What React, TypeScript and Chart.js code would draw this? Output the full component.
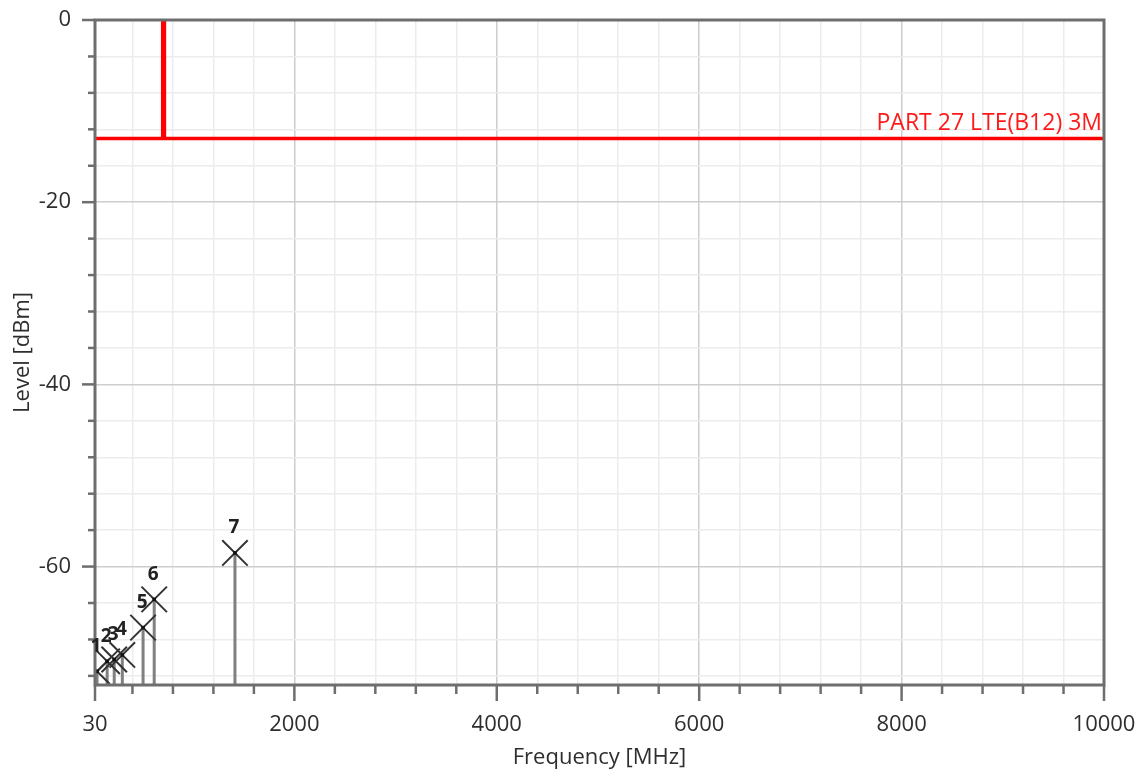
import React, { useEffect, useRef } from "react";
import { Chart, registerables } from "chart.js";

Chart.register(...registerables);

// ---- data ----
const X_MIN = 30;
const X_MAX = 10000;
const Y_MIN = -73;
const Y_MAX = 0;

const xTickValues = [30, 400, 800, 1200, 1600, 2000, 2400, 2800, 3200, 3600, 4000, 4400, 4800, 5200, 5600, 6000, 6400, 6800, 7200, 7600, 8000, 8400, 8800, 9200, 9600, 10000];
const xLabelValues = [30, 2000, 4000, 6000, 8000, 10000];
const yTickValues = [0, -4, -8, -12, -16, -20, -24, -28, -32, -36, -40, -44, -48, -52, -56, -60, -64, -68, -72];
const yLabelValues = [0, -20, -40, -60];

const markerLabels = ["1", "2", "3", "4", "5", "6", "7"];
const markerFreqs = [50, 150, 220, 300, 505, 615, 1413];
const markerLevels = [-71.5, -70.4, -70.2, -69.7, -66.7, -63.6, -58.5];

const limitFreqs = [30, 699, 699, 716, 716, 10000];
const limitLevels = [-13, -13, 0, 0, -13, -13];
const limitName = "PART 27 LTE(B12) 3M";

const FONT = "'Open Sans', 'DejaVu Sans', sans-serif";
const TEXT_COLOR = "#2e2e2e";
const AXIS_COLOR = "#6e6e6e";

const overlayPlugin = {
  id: "overlay",
  afterDraw(chart: any) {
    const { ctx, chartArea } = chart;
    const xs = chart.scales.x;
    const ys = chart.scales.y;
    ctx.save();
    // frame
    ctx.strokeStyle = AXIS_COLOR;
    ctx.lineWidth = 3;
    ctx.strokeRect(chartArea.left, chartArea.top, chartArea.right - chartArea.left, chartArea.bottom - chartArea.top);
    // tick marks
    ctx.lineWidth = 2.5;
    xTickValues.forEach((v) => {
      const px = xs.getPixelForValue(v);
      const major = xLabelValues.includes(v);
      ctx.beginPath();
      ctx.moveTo(px, chartArea.bottom);
      ctx.lineTo(px, chartArea.bottom + (major ? 16 : 9));
      ctx.stroke();
    });
    yTickValues.forEach((v) => {
      const py = ys.getPixelForValue(v);
      const major = yLabelValues.includes(v);
      ctx.beginPath();
      ctx.moveTo(chartArea.left, py);
      ctx.lineTo(chartArea.left - (major ? 13 : 7), py);
      ctx.stroke();
    });
    // limit label
    ctx.fillStyle = "#ff1a1a";
    ctx.font = `23px ${FONT}`;
    ctx.textAlign = "right";
    ctx.textBaseline = "middle";
    ctx.fillText(limitName, chartArea.right - 2, ys.getPixelForValue(limitLevels[limitLevels.length - 1]) - 15);
    // marker labels
    ctx.fillStyle = "#222";
    ctx.font = `bold 19px ${FONT}`;
    ctx.textAlign = "center";
    markerLabels.forEach((lab, i) => {
      const px = xs.getPixelForValue(markerFreqs[i]);
      const py = ys.getPixelForValue(markerLevels[i]);
      ctx.fillText(lab, px - 1, py - 25);
    });
    ctx.restore();
  },
};

export default function App() {
  const canvasRef = useRef<HTMLCanvasElement | null>(null);

  useEffect(() => {
    const canvas = canvasRef.current;
    if (!canvas) return;

    const stemData: any[] = [];
    markerFreqs.forEach((f, i) => {
      stemData.push({ x: f, y: Y_MIN });
      stemData.push({ x: f, y: markerLevels[i] });
      stemData.push({ x: f, y: null });
    });

    const chart = new Chart(canvas, {
      type: "scatter",
      data: {
        datasets: [
          {
            label: "limit",
            data: limitFreqs.map((f, i) => ({ x: f, y: limitLevels[i] })),
            showLine: true,
            borderColor: "#ff0000",
            borderWidth: 3.5,
            pointRadius: 0,
            fill: false,
          } as any,
          {
            label: "centers",
            data: markerFreqs.map((f, i) => ({ x: f, y: markerLevels[i] })),
            pointStyle: "rect",
            pointRadius: 2.5,
            backgroundColor: "#111",
            borderColor: "#111",
            borderWidth: 0,
          },
          {
            label: "markers",
            data: markerFreqs.map((f, i) => ({ x: f, y: markerLevels[i] })),
            pointStyle: "crossRot",
            pointRadius: 18,
            borderColor: "#333",
            borderWidth: 2,
            backgroundColor: "transparent",
          },
          {
            label: "stems",
            data: stemData,
            showLine: true,
            spanGaps: false,
            borderColor: "#808080",
            borderWidth: 3,
            pointRadius: 0,
          } as any,
        ],
      },
      options: {
        animation: false,
        responsive: false,
        events: [],
        layout: { padding: { top: 18, right: 37, left: 0, bottom: 0 } },
        plugins: { legend: { display: false }, tooltip: { enabled: false } },
        scales: {
          x: {
            type: "linear",
            min: X_MIN,
            max: X_MAX,
            afterBuildTicks: (scale: any) => {
              scale.ticks = xTickValues.map((v) => ({ value: v }));
            },
            afterFit: (scale: any) => {
              scale.height = 89;
              scale.paddingLeft = 0;
              scale.paddingRight = 0;
            },
            ticks: {
              autoSkip: false,
              maxRotation: 0,
              padding: 27,
              color: TEXT_COLOR,
              font: { family: FONT, size: 22 },
              callback: (v: any) => (xLabelValues.includes(Number(v)) ? String(v) : ""),
            },
            grid: {
              drawTicks: false,
              lineWidth: 1.5,
              color: (c: any) => (c.tick && xLabelValues.includes(c.tick.value) ? "#cdcdcd" : "#ececec"),
            },
            border: { display: false },
            title: {
              display: true,
              text: "Frequency [MHz]",
              color: TEXT_COLOR,
              font: { family: FONT, size: 22 },
              padding: { top: 0, bottom: 3 },
            },
          },
          y: {
            type: "linear",
            min: Y_MIN,
            max: Y_MAX,
            afterBuildTicks: (scale: any) => {
              scale.ticks = yTickValues.map((v) => ({ value: v }));
            },
            afterFit: (scale: any) => {
              scale.width = 95;
              scale.paddingTop = 0;
              scale.paddingBottom = 0;
            },
            ticks: {
              autoSkip: false,
              padding: 24,
              color: TEXT_COLOR,
              font: { family: FONT, size: 22 },
              callback: (v: any) => (yLabelValues.includes(Number(v)) ? String(v) : ""),
            },
            grid: {
              drawTicks: false,
              lineWidth: 1.5,
              color: (c: any) => (c.tick && yLabelValues.includes(c.tick.value) ? "#cdcdcd" : "#ececec"),
            },
            border: { display: false },
            title: {
              display: true,
              text: "Level [dBm]",
              color: TEXT_COLOR,
              font: { family: FONT, size: 22 },
              padding: { top: 10, bottom: 0 },
            },
          },
        },
      },
      plugins: [overlayPlugin],
    });

    return () => chart.destroy();
  }, []);

  return (
    <div style={{ position: "absolute", left: 0, top: 0, width: 1141, height: 774, background: "#fff" }}>
      <canvas ref={canvasRef} width={1141} height={774} />
    </div>
  );
}
